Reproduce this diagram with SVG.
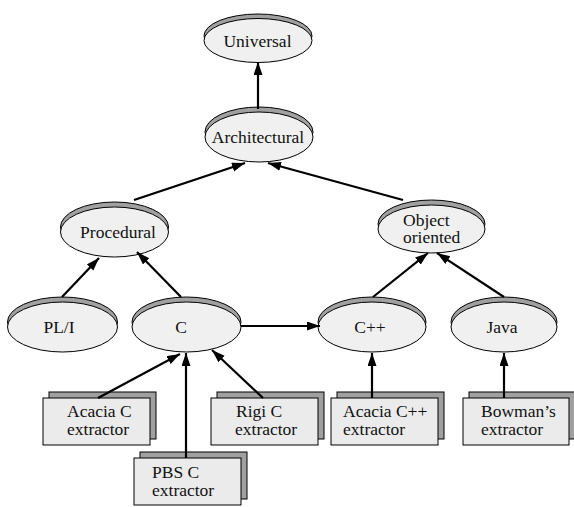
<svg xmlns="http://www.w3.org/2000/svg" width="574" height="507" viewBox="0 0 574 507">
<style>
.sh{fill:#a0a0a0;stroke:#000;stroke-width:1}
.bd{fill:#f0f0f0;stroke:#000;stroke-width:1}
.bk{fill:#a0a0a0;stroke:#000;stroke-width:1}
.fr{fill:#ebebeb;stroke:#000;stroke-width:1}
.m{text-anchor:middle}
.e{stroke:#000;stroke-width:2.2;fill:none;marker-end:url(#ah)}
</style>
<defs>
<marker id="ah" markerUnits="userSpaceOnUse" markerWidth="14" markerHeight="10" refX="13" refY="4.5" orient="auto">
<path d="M0,0 L13,4.5 L0,9 z" fill="#000"/>
</marker>
</defs>
<rect width="574" height="507" fill="#fff"/>
<g font-family="'Liberation Serif', 'DejaVu Serif', serif" font-size="17.5" fill="#111">
<g id="universal">
<ellipse class="sh" cx="258" cy="36" rx="54" ry="22"/>
<ellipse class="bd" cx="258" cy="40.5" rx="54" ry="22"/>
<text class="m" x="257.5" y="47">Universal</text>
</g>
<g id="architectural">
<ellipse class="sh" cx="259" cy="132" rx="54" ry="25"/>
<ellipse class="bd" cx="259" cy="137" rx="54" ry="25"/>
<text class="m" x="258" y="143">Architectural</text>
</g>
<g id="procedural">
<ellipse class="sh" cx="114.5" cy="227" rx="54" ry="25"/>
<ellipse class="bd" cx="114.5" cy="232" rx="54" ry="25"/>
<text class="m" x="118" y="238">Procedural</text>
</g>
<g id="object-oriented">
<ellipse class="sh" cx="431.5" cy="224" rx="53.5" ry="24"/>
<ellipse class="bd" cx="431.5" cy="229" rx="53.5" ry="24"/>
<text x="403" y="226">Object</text>
<text x="403" y="243">oriented</text>
</g>
<g id="pli">
<ellipse class="sh" cx="62.5" cy="322" rx="55" ry="25"/>
<ellipse class="bd" cx="62.5" cy="327" rx="55" ry="25"/>
<text class="m" x="59" y="333">PL/I</text>
</g>
<g id="c">
<ellipse class="sh" cx="186.5" cy="322" rx="54.5" ry="25"/>
<ellipse class="bd" cx="186.5" cy="327" rx="54.5" ry="25"/>
<text class="m" x="181" y="333">C</text>
</g>
<g id="cpp">
<ellipse class="sh" cx="372" cy="322" rx="54" ry="25"/>
<ellipse class="bd" cx="372" cy="327" rx="54" ry="25"/>
<text class="m" x="370" y="333">C++</text>
</g>
<g id="java">
<ellipse class="sh" cx="504" cy="322" rx="53" ry="25"/>
<ellipse class="bd" cx="504" cy="327" rx="53" ry="25"/>
<text class="m" x="502" y="333">Java</text>
</g>
<g id="acacia-c">
<rect class="bk" x="49" y="392" width="107" height="47"/>
<rect class="fr" x="43" y="398" width="107" height="47"/>
<text x="67" y="417">Acacia C</text>
<text x="67" y="435">extractor</text>
</g>
<g id="pbs-c">
<rect class="bk" x="140" y="452" width="107" height="47"/>
<rect class="fr" x="134" y="458" width="107" height="47"/>
<text x="152" y="478">PBS C</text>
<text x="152" y="496">extractor</text>
</g>
<g id="rigi-c">
<rect class="bk" x="217" y="392" width="107" height="47"/>
<rect class="fr" x="211" y="398" width="107" height="47"/>
<text x="236" y="417">Rigi C</text>
<text x="235" y="435">extractor</text>
</g>
<g id="acacia-cpp">
<rect class="bk" x="337" y="392" width="107" height="47"/>
<rect class="fr" x="331" y="398" width="107" height="47"/>
<text x="343" y="417">Acacia C++</text>
<text x="343" y="435">extractor</text>
</g>
<g id="bowman">
<rect class="bk" x="469" y="392" width="107" height="47"/>
<rect class="fr" x="463" y="398" width="106" height="47"/>
<text x="481" y="417">Bowman’s</text>
<text x="481" y="435">extractor</text>
</g>
</g>
<g id="connectors">
<line class="e" x1="258" y1="109" x2="258" y2="62"/>
<line class="e" x1="134" y1="200" x2="245" y2="163"/>
<line class="e" x1="403" y1="200" x2="268" y2="163"/>
<line class="e" x1="62" y1="297" x2="99" y2="258"/>
<line class="e" x1="181" y1="297" x2="137" y2="252"/>
<line class="e" x1="241" y1="326" x2="320" y2="326"/>
<line class="e" x1="373" y1="297" x2="428" y2="253"/>
<line class="e" x1="504" y1="297" x2="437" y2="253"/>
<line class="e" x1="98" y1="398" x2="180" y2="354"/>
<line class="e" x1="186" y1="458" x2="186" y2="353"/>
<line class="e" x1="263" y1="398" x2="212" y2="350"/>
<line class="e" x1="372" y1="398" x2="372" y2="353"/>
<line class="e" x1="504" y1="398" x2="504" y2="353"/>
</g>
</svg>
